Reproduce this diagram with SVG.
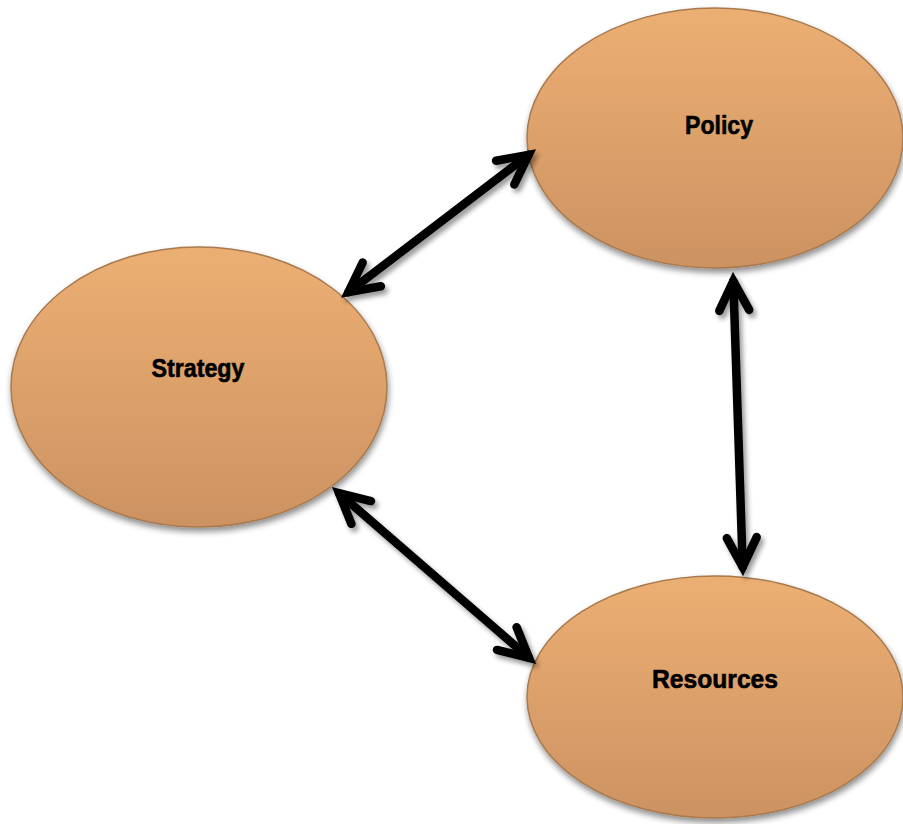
<svg xmlns="http://www.w3.org/2000/svg" width="903" height="824" viewBox="0 0 903 824">
  <defs>
    <linearGradient id="nodeFill" x1="0" y1="0" x2="0" y2="1">
      <stop offset="0" stop-color="#ECAF73"/>
      <stop offset="1" stop-color="#CC9262"/>
    </linearGradient>
    <filter id="nodeShadow" x="-10%" y="-10%" width="125%" height="130%">
      <feGaussianBlur in="SourceAlpha" stdDeviation="3"/>
      <feOffset dx="1" dy="4" result="b"/>
      <feComponentTransfer><feFuncA type="linear" slope="0.45"/></feComponentTransfer>
      <feMerge><feMergeNode/><feMergeNode in="SourceGraphic"/></feMerge>
    </filter>
    <filter id="arrowShadow" x="-20%" y="-20%" width="140%" height="140%">
      <feGaussianBlur in="SourceAlpha" stdDeviation="2.5"/>
      <feOffset dx="3" dy="4" result="b"/>
      <feComponentTransfer><feFuncA type="linear" slope="0.4"/></feComponentTransfer>
      <feMerge><feMergeNode/><feMergeNode in="SourceGraphic"/></feMerge>
    </filter>
  </defs>
  <style>
    .node ellipse { fill: url(#nodeFill); stroke: #A87A4E; stroke-width: 1.5; filter: url(#nodeShadow); }
    .node text { font-family: "Liberation Sans", Arial, sans-serif; font-weight: bold; font-size: 26px; fill: #000; stroke: #000; stroke-width: 0.6; text-anchor: middle; }
    .conn path { fill: none; stroke: #000; stroke-width: 8.5; stroke-linecap: round; stroke-linejoin: miter; stroke-miterlimit: 6; }
  </style>

  <rect width="903" height="824" fill="#FFFFFF"/>

  <g id="policy" class="node">
    <ellipse cx="715" cy="138" rx="188" ry="130"/>
    <text x="719" y="134" textLength="68" lengthAdjust="spacingAndGlyphs">Policy</text>
  </g>
  <g id="strategy" class="node">
    <ellipse cx="199" cy="387" rx="188" ry="140"/>
    <text x="198" y="377" textLength="93" lengthAdjust="spacingAndGlyphs">Strategy</text>
  </g>
  <g id="resources" class="node">
    <ellipse cx="715" cy="697" rx="188" ry="121"/>
    <text x="715" y="688" textLength="126" lengthAdjust="spacingAndGlyphs">Resources</text>
  </g>

  <g id="connectors" class="conn" filter="url(#arrowShadow)">
    <!-- Strategy <-> Policy -->
    <path d="M348.4,292.2 L528.6,154.8"/>
    <path d="M380.9,286.3 L348.4,292.2 L362.7,262.5"/>
    <path d="M496.1,160.7 L528.6,154.8 L514.3,184.5"/>
    <!-- Policy <-> Resources -->
    <path d="M733.3,281 L742.7,567"/>
    <path d="M719.3,310.9 L733.3,281 L749.2,309.9"/>
    <path d="M756.7,537.1 L742.7,567 L726.8,538.1"/>
    <!-- Strategy <-> Resources -->
    <path d="M339,493.2 L529,657.8"/>
    <path d="M351.4,523.8 L339,493.2 L371,501.1"/>
    <path d="M516.6,627.2 L529,657.8 L497,649.9"/>
  </g>
</svg>
